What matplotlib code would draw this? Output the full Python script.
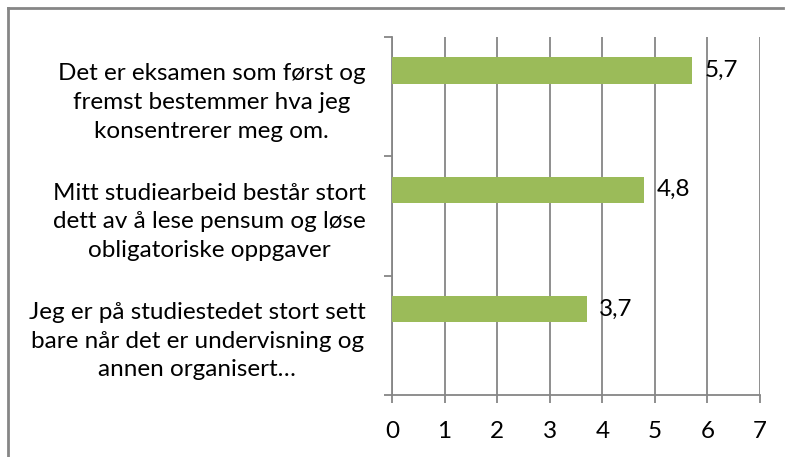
import matplotlib
matplotlib.use("Agg")
import matplotlib.pyplot as plt
from matplotlib.lines import Line2D

categories = [
    "Det er eksamen som først og\nfremst bestemmer hva jeg\nkonsentrerer meg om.",
    "Mitt studiearbeid består stort\ndett av å lese pensum og løse\nobligatoriske oppgaver",
    "Jeg er på studiestedet stort sett\nbare når det er undervisning og\nannen organisert…",
]
values = [5.7, 4.8, 3.7]
value_labels = ["5,7", "4,8", "3,7"]
xticks = [0, 1, 2, 3, 4, 5, 6, 7]

plt.rcParams['font.family'] = ['Lato', 'DejaVu Sans']
FS = 17.5
GRAY = "#868686"
GREEN = "#9BBB59"

W, H = 786, 457
fig = plt.figure(figsize=(W / 100, H / 100), dpi=100)
ax = fig.add_axes([392 / W, 1 - 395 / H, (760 - 392) / W, (395 - 37) / H])

pos = list(range(len(categories)))
bar_h = 0.22
offset = -0.22
ax.barh([p + offset for p in pos], values, height=bar_h, color=GREEN, zorder=3)
for p, v, lab in zip(pos, values, value_labels):
    ax.annotate(lab, (v, p + offset), xytext=(9, 0), textcoords="offset points",
                va="center", ha="left", fontsize=FS, color="black", zorder=4)

ax.set_xlim(0, 7)
ax.set_ylim(len(categories) - 0.5, -0.5)
ax.set_xticks(xticks)
ax.set_xticklabels([str(t) for t in xticks], fontsize=FS)
ax.set_yticks(pos)
ax.set_yticklabels(categories, fontsize=FS)
for t in ax.get_yticklabels():
    t.set_multialignment("center")
    t.set_linespacing(1.45)
ax.set_yticks([p - 0.5 for p in pos] + [len(categories) - 0.5], minor=True)
ax.tick_params(axis="y", which="major", length=0, pad=19)
ax.tick_params(axis="y", which="minor", length=6, width=1.3, color=GRAY, direction="out")
ax.tick_params(axis="x", which="major", length=6, width=1.3, color=GRAY, direction="out", pad=13)

ax.grid(axis="x", color=GRAY, linewidth=1.3, zorder=0)
for s in ["top", "right"]:
    ax.spines[s].set_visible(False)
for s in ["left", "bottom"]:
    ax.spines[s].set_color(GRAY)
    ax.spines[s].set_linewidth(1.3)

# outer chart border (cropped on right and bottom)
fig.add_artist(Line2D([8 / W, 783 / W], [1 - 7.5 / H, 1 - 7.5 / H], transform=fig.transFigure,
                      color=GRAY, linewidth=2))
fig.add_artist(Line2D([8 / W, 8 / W], [1 - 7.5 / H, 0], transform=fig.transFigure,
                      color=GRAY, linewidth=2))

fig.savefig("out.png", dpi=100)
